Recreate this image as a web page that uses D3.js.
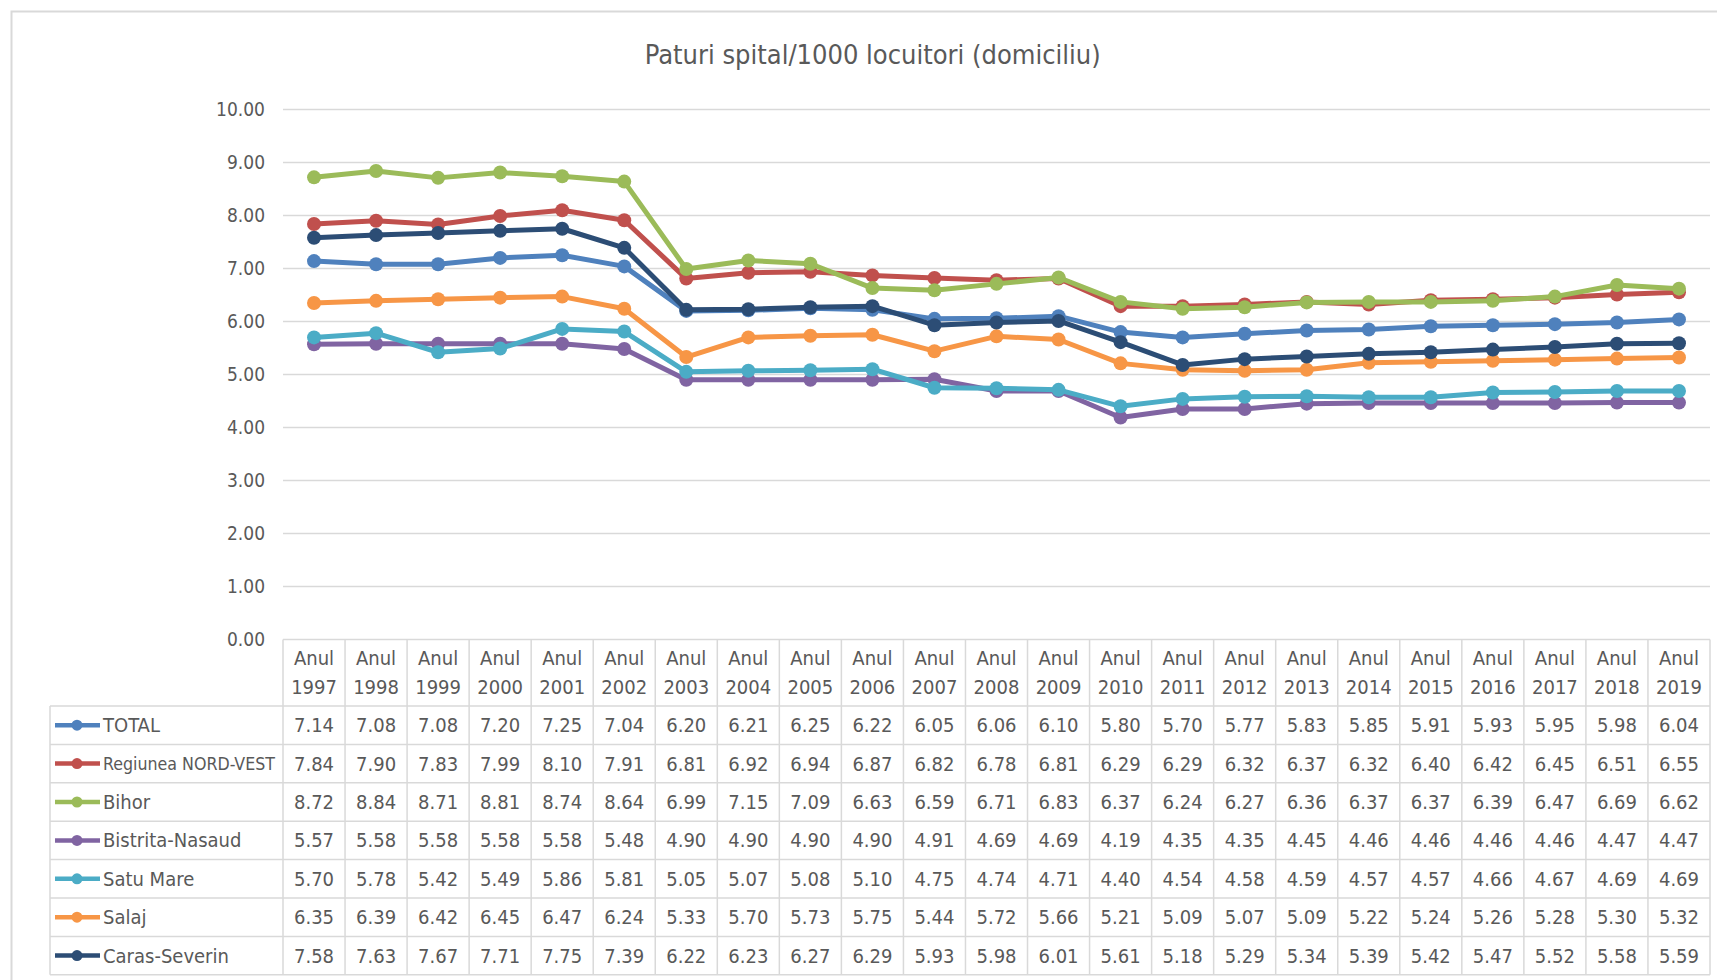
<!DOCTYPE html>
<html>
<head>
<meta charset="utf-8">
<script src="https://cdn.jsdelivr.net/npm/d3@7"></script>
<style>
body{margin:0;background:#fff;}
text{font-family:"Liberation Sans Narrow","DejaVu Sans Condensed","Open Sans",sans-serif;fill:#595959;}
</style>
</head>
<body>
<svg id="chart" width="1717" height="980"></svg>
<script>
var years = ["1997","1998","1999","2000","2001","2002","2003","2004","2005","2006","2007","2008","2009","2010","2011","2012","2013","2014","2015","2016","2017","2018","2019"];
var seriesNames = ["TOTAL","Regiunea NORD-VEST","Bihor","Bistrita-Nasaud","Satu Mare","Salaj","Caras-Severin"];
var seriesColors = ["#4f81bd","#c0504d","#9bbb59","#8064a2","#4bacc6","#f79646","#2c4d75"];
var total = [7.14,7.08,7.08,7.20,7.25,7.04,6.20,6.21,6.25,6.22,6.05,6.06,6.10,5.80,5.70,5.77,5.83,5.85,5.91,5.93,5.95,5.98,6.04];
var nordVest = [7.84,7.90,7.83,7.99,8.10,7.91,6.81,6.92,6.94,6.87,6.82,6.78,6.81,6.29,6.29,6.32,6.37,6.32,6.40,6.42,6.45,6.51,6.55];
var bihor = [8.72,8.84,8.71,8.81,8.74,8.64,6.99,7.15,7.09,6.63,6.59,6.71,6.83,6.37,6.24,6.27,6.36,6.37,6.37,6.39,6.47,6.69,6.62];
var bistrita = [5.57,5.58,5.58,5.58,5.58,5.48,4.90,4.90,4.90,4.90,4.91,4.69,4.69,4.19,4.35,4.35,4.45,4.46,4.46,4.46,4.46,4.47,4.47];
var satuMare = [5.70,5.78,5.42,5.49,5.86,5.81,5.05,5.07,5.08,5.10,4.75,4.74,4.71,4.40,4.54,4.58,4.59,4.57,4.57,4.66,4.67,4.69,4.69];
var salaj = [6.35,6.39,6.42,6.45,6.47,6.24,5.33,5.70,5.73,5.75,5.44,5.72,5.66,5.21,5.09,5.07,5.09,5.22,5.24,5.26,5.28,5.30,5.32];
var carasSeverin = [7.58,7.63,7.67,7.71,7.75,7.39,6.22,6.23,6.27,6.29,5.93,5.98,6.01,5.61,5.18,5.29,5.34,5.39,5.42,5.47,5.52,5.58,5.59];
var yTicks = [0,1,2,3,4,5,6,7,8,9,10];

var seriesValues = [total,nordVest,bihor,bistrita,satuMare,salaj,carasSeverin];

function drawChart(){
	let svg = d3.select("#chart");
	let left = 283, right = 1710, top = 109.5, bottom = 639.5;
	let rowH = 38.4, headH = 66.5, legendLeft = 50;

	// chart frame
	svg.append("path")
		.attr("d", "M11.5,980 L11.5,11.5 L1717,11.5")
		.attr("fill", "none")
		.attr("stroke", "#d9d9d9")
		.attr("stroke-width", 2);

	svg.append("text")
		.attr("x", 797*1.095)
		.attr("y", 64)
		.attr("text-anchor", "middle")
		.style("font-size", "27px")
		.text("Paturi spital/1000 locuitori (domiciliu)");

	let x = d3.scaleBand().domain(years).range([left, right]);
	let y = d3.scaleLinear().domain([0, 10]).range([bottom, top]);

	let grid = svg.append("g");
	yTicks.forEach(function(t){
		grid.append("line")
			.attr("x1", left).attr("x2", right)
			.attr("y1", y(t)).attr("y2", y(t))
			.attr("stroke", "#d9d9d9")
			.attr("stroke-width", 1.5);
		grid.append("text")
			.attr("x", 265)
			.attr("y", y(t))
			.attr("dy", "0.35em")
			.attr("text-anchor", "end")
			.style("font-size", "19px")
			.text(d3.format(".2f")(t));
	});

	// lines
	let lineFunction = d3.line()
		.x(function(d, i){ return x(years[i]) + x.bandwidth()/2; })
		.y(function(d){ return y(d); });
	let plot = svg.append("g");
	seriesValues.forEach(function(vals, s){
		plot.append("path")
			.attr("d", lineFunction(vals))
			.attr("fill", "none")
			.attr("stroke", seriesColors[s])
			.attr("stroke-width", 5)
			.attr("stroke-linejoin", "round");
		vals.forEach(function(v, i){
			plot.append("circle")
				.attr("cx", x(years[i]) + x.bandwidth()/2)
				.attr("cy", y(v))
				.attr("r", 7)
				.style("fill", seriesColors[s]);
		});
	});

	// data table
	let table = svg.append("g");
	let tableTop = bottom + headH;
	let tableBottom = tableTop + rowH*seriesNames.length;
	let borderColor = "#d9d9d9";
	years.forEach(function(yr, i){
		let cx = x(yr) + x.bandwidth()/2;
		table.append("text").attr("x", cx).attr("y", bottom + 18).attr("dy", "0.35em")
			.attr("text-anchor", "middle").style("font-size", "20px").text("Anul");
		table.append("text").attr("x", cx).attr("y", bottom + 47).attr("dy", "0.35em")
			.attr("text-anchor", "middle").style("font-size", "20px").text(yr);
	});
	d3.range(years.length + 1).forEach(function(i){
		let xx = left + i*x.bandwidth();
		table.append("line")
			.attr("x1", xx).attr("x2", xx)
			.attr("y1", bottom).attr("y2", tableBottom)
			.attr("stroke", borderColor).attr("stroke-width", 1.5);
	});
	table.append("line")
		.attr("x1", legendLeft).attr("x2", legendLeft)
		.attr("y1", tableTop).attr("y2", tableBottom)
		.attr("stroke", borderColor).attr("stroke-width", 1.5);
	d3.range(seriesNames.length + 1).forEach(function(r){
		let yy = tableTop + r*rowH;
		table.append("line")
			.attr("x1", legendLeft).attr("x2", right)
			.attr("y1", yy).attr("y2", yy)
			.attr("stroke", borderColor).attr("stroke-width", 1.5);
	});
	seriesNames.forEach(function(name, s){
		let cy = tableTop + s*rowH + rowH/2;
		table.append("line")
			.attr("x1", 55).attr("x2", 100)
			.attr("y1", cy).attr("y2", cy)
			.attr("stroke", seriesColors[s]).attr("stroke-width", 4.5);
		table.append("circle")
			.attr("cx", 77).attr("cy", cy).attr("r", 5.5)
			.style("fill", seriesColors[s]);
		let long = name.length > 15;
		table.append("text")
			.attr("x", 103).attr("y", cy).attr("dy", "0.35em")
			.style("font-size", long ? "18px" : "20px")
			.attr("textLength", long ? 172 : null)
			.attr("lengthAdjust", "spacingAndGlyphs")
			.text(name);
		seriesValues[s].forEach(function(v, i){
			table.append("text")
				.attr("x", x(years[i]) + x.bandwidth()/2)
				.attr("y", cy).attr("dy", "0.35em")
				.attr("text-anchor", "middle")
				.style("font-size", "20px")
				.text(d3.format(".2f")(v));
		});
	});
}
drawChart();
</script>
</body>
</html>
